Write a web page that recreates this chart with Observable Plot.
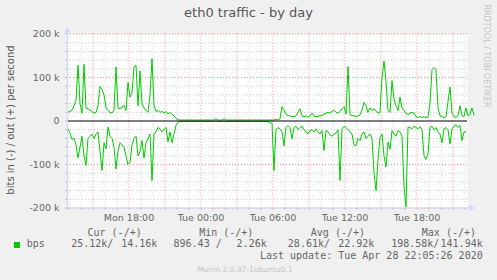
<!DOCTYPE html>
<html><head><meta charset="utf-8">
<script src="https://cdn.jsdelivr.net/npm/d3@7"></script>
<script src="https://cdn.jsdelivr.net/npm/@observablehq/plot@0.6"></script>
<style>
html,body{margin:0;padding:0;background:#f0f0f0;}
#wrap{position:relative;width:497px;height:280px;overflow:hidden;background:#f0f0f0;font-family:"DejaVu Sans",sans-serif;color:#666;}
#wrap svg{position:absolute;left:0;top:0;}
.t{position:absolute;white-space:pre;}
.mono{font-family:"DejaVu Sans Mono",monospace;font-size:10px;line-height:12px;color:#666;}
</style></head><body><div id="wrap"></div>
<script>
// ---- data (values in kbit/s, one sample every 10 minutes) ----
const startHour = 12 + 55/60;   // Mon 12:55
const stepHours = 1/6;          // 10 min
const outValues = [
20,22,25,35,47,128,40,18,130,30,28,25,22,18,20,35,80,72,60,30,24,20,18,25,124,30,28,32,36,24,
89,55,65,125,128,35,115,40,30,25,20,60,143,36,22,24,20,22,18,22,16,20,15,12,6,3,
2.3,2.3,2.3,2.3,2.3,2.3,2.3,2.3,2.3,2.3,2.3,2.3,2.3,2.3,2.3,2.3,2.3,2.3,5,2.3,2.3,2.3,5,2.3,2.3,2.3,
2.3,2.3,2.3,2.3,2.3,2.3,2.3,2.3,2.3,2.3,2.3,2.3,2.3,2.3,2.3,2.3,2.3,2.3,2.3,2.3,2.3,2.3,4,2.3,
5,33,25,15,12,12,10,10,12,20,28,12,10,12,9,12,18,12,10,11,12,13,15,18,20,18,22,25,20,18,
22,28,33,16,125,15,12,12,10,12,14,25,43,35,20,30,25,27,
24,18,20,100,138,90,24,20,93,50,35,24,55,30,25,18,15,18,20,18,10,8,10,8,10,7,9,40,118,123,
118,30,12,10,8,10,45,78,18,10,8,12,35,12,10,30,12,15,30,14
];
const inValues = [
18,28,42,40,55,85,60,35,80,102,40,35,30,40,30,25,70,114,50,64,14,35,40,60,110,70,50,55,60,80,
100,95,55,40,35,80,70,45,85,50,40,30,137,30,25,15,18,25,20,15,48,25,50,30,10,3,
0.9,0.9,0.9,0.9,0.9,0.9,0.9,0.9,0.9,0.9,0.9,0.9,0.9,0.9,0.9,0.9,0.9,0.9,0.9,0.9,0.9,0.9,0.9,0.9,0.9,0.9,
0.9,0.9,0.9,0.9,0.9,0.9,0.9,0.9,0.9,0.9,0.9,0.9,0.9,0.9,0.9,0.9,0.9,0.9,0.9,4,
5,114,20,15,18,25,57,15,10,15,41,15,12,20,15,12,20,25,30,22,20,25,18,25,30,22,68,22,25,32,
35,30,28,20,137,18,12,15,20,25,30,55,57,40,45,30,25,40,
35,30,40,120,160,90,38,30,80,106,48,65,22,30,35,22,25,35,150,198,14,15,18,12,15,18,13,20,80,88,
75,15,12,20,15,25,30,50,18,15,20,53,18,12,8,15,10,45,25,25
];
const xTickHours = [18, 24, 30, 36, 42];
const xTickLabels = ["Mon 18:00", "Tue 00:00", "Tue 06:00", "Tue 12:00", "Tue 18:00"];
const yTickValues = [-200, -100, 0, 100, 200];
const yTickLabels = ["-200 k", "-100 k", "0", "100 k", "200 k"];
const legendHeaders = ["Cur (-/+)", "Min (-/+)", "Avg (-/+)", "Max (-/+)"];
const legendIn = ["25.12k/", "896.43 /", "28.61k/", "198.58k/"];
const legendOut = ["14.16k", "2.26k", "22.92k", "141.94k"];
const seriesName = "bps";
const titleText = "eth0 traffic - by day";
const yLabelText = "bits in (-) / out (+) per second";
const lastUpdate = "Last update: Tue Apr 28 22:05:26 2020";
const footerText = "Munin 2.0.37-1ubuntu0.1";
const sideText = "RRDTOOL / TOBI OETIKER";

// ---- build ----
const rows = outValues.map((v, i) => ({t: startHour + i * stepHours, out: v, inn: -inValues[i]}));
const x0 = 12.875, x1 = 46 + 12.5/60;
const hoursAll = d3.range(13, 47);
const minorH = hoursAll.filter(h => h % 3 !== 0);
const majorH = hoursAll.filter(h => h % 3 === 0);
const y20 = d3.range(-200, 201, 20);
const minorY = y20.filter(v => v % 100 !== 0);
const majorY = [-200, -100, 100, 200];
const AX = "#cfd6f8";

const chart = Plot.plot({
  width: 497, height: 280,
  marginLeft: 67, marginRight: 30, marginTop: 33.5, marginBottom: 72.5,
  style: {background: "transparent", fontFamily: "DejaVu Sans", fontSize: "9.5px", overflow: "visible"},
  x: {domain: [x0, x1]},
  y: {domain: [-200, 200]},
  marks: [
    Plot.frame({fill: "white", stroke: null}),
    Plot.ruleX(minorH, {stroke: "#c8c8c8", strokeDasharray: "1,2"}),
    Plot.ruleY(minorY, {stroke: "#c8c8c8", strokeDasharray: "1,2"}),
    Plot.ruleX(majorH, {stroke: "#f08c8c", strokeDasharray: "1,2"}),
    Plot.ruleY(majorY, {stroke: "#f08c8c", strokeDasharray: "1,2"}),
    Plot.line(rows, {x: "t", y: "out", stroke: "#00cc00", strokeWidth: 1}),
    Plot.line(rows, {x: "t", y: "inn", stroke: "#00cc00", strokeWidth: 1}),
    Plot.ruleY([0], {stroke: "black", strokeWidth: 1}),
    Plot.ruleX([x0], {y1: -200, y2: 206, stroke: AX}),
    Plot.ruleY([-200], {x1: x0, x2: 46.45, stroke: AX}),
    Plot.dot([{x: x0, y: 207.5}], {x: "x", y: "y", symbol: "triangle2", r: 3, fill: AX, stroke: null}),
    Plot.dot([{x: 46.5, y: -200}], {x: "x", y: "y", symbol: "triangle2", r: 3, fill: AX, stroke: null, rotate: 90}),
    Plot.axisY(y20, {tickSize: 2, tickPadding: 6, stroke: "#b8b8c8", fill: "#666",
      tickFormat: d => { const k = yTickValues.indexOf(d); return k >= 0 ? yTickLabels[k] : ""; }}),
    Plot.axisX(hoursAll, {tickSize: 2, tickPadding: 4.5, stroke: "#b8b8c8", fill: "#666",
      tickFormat: d => { const k = xTickHours.indexOf(d); return k >= 0 ? xTickLabels[k] : ""; }})
  ]
});
const wrap = document.getElementById("wrap");
wrap.appendChild(chart);

function addText(txt, css, cls) {
  const d = document.createElement("div");
  d.className = "t" + (cls ? " " + cls : "");
  d.textContent = txt;
  d.style.cssText += css;
  wrap.appendChild(d);
  return d;
}
addText(titleText, "left:0;width:497px;text-align:center;top:5px;font-size:13px;line-height:15px;color:#555;");
addText(yLabelText, "left:10.5px;top:119.7px;font-size:10px;line-height:10px;color:#555;transform:translate(-50%,-50%) rotate(-90deg);");
addText(sideText, "left:486.3px;top:56px;font-size:8px;line-height:8px;color:#c4c4c4;transform:translate(-50%,-50%) rotate(90deg);");
const hdrRight = [141.7, 253.3, 365, 476];
const inRight = [113.3, 221.7, 330, 439.3];
const outRight = [157.3, 266.7, 374.3, 482.7];
legendHeaders.forEach((h, i) => addText(h, `right:${497 - hdrRight[i]}px;top:226.5px;`, "mono"));
legendIn.forEach((h, i) => addText(h, `right:${497 - inRight[i]}px;top:238.2px;`, "mono"));
legendOut.forEach((h, i) => addText(h, `right:${497 - outRight[i]}px;top:238.2px;`, "mono"));
addText(seriesName, "left:26.7px;top:238.2px;", "mono");
const sw = document.createElement("div");
sw.style.cssText = "position:absolute;left:14px;top:242px;width:6px;height:6px;background:#00cc00;";
wrap.appendChild(sw);
addText(lastUpdate, "right:14.3px;top:250.1px;", "mono");
addText(footerText, "left:197.3px;top:265.2px;font-size:7.5px;line-height:9px;color:#c4c4c4;");
</script></body></html>
